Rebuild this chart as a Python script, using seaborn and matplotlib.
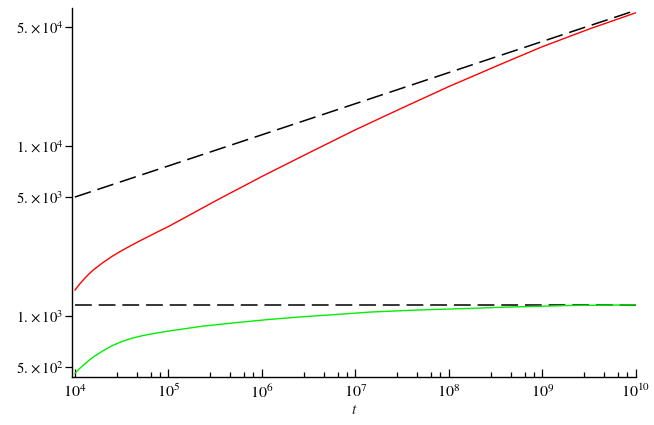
import matplotlib
matplotlib.use("Agg")
import matplotlib.pyplot as plt
import matplotlib.ticker as mticker
import seaborn as sns
import pandas as pd

# --- DATA ---
red_t = [1e4, 1.12e4, 1.26e4, 1.41e4, 1.58e4, 2e4, 2.51e4, 3.16e4, 3.98e4,
         5.01e4, 6.31e4, 7.94e4, 1e5, 1.78e5, 3.16e5, 1e6, 3.2e6, 1e7,
         3.2e7, 1e8, 3.2e8, 1e9, 3.2e9, 1e10]
red_v = [1413, 1531, 1648, 1758, 1862, 2056, 2239, 2415, 2588,
         2767, 2951, 3148, 3350, 3981, 4732, 6607, 9120, 12450,
         16790, 22390, 29510, 38460, 48980, 60950]

green_t = [1e4, 1.12e4, 1.26e4, 1.41e4, 1.58e4, 2e4, 2.51e4, 3.16e4, 3.98e4,
           5.01e4, 6.31e4, 7.94e4, 1e5, 2.34e5, 5.37e5, 1.23e6, 2.82e6,
           6.3e6, 1.45e7, 5.01e7, 1.7e8, 3.98e8, 2e9, 1e10]
green_v = [457, 487, 516, 544, 571, 621, 665, 703, 733,
           757, 777, 794, 811, 867, 910, 951, 986,
           1016, 1050, 1081, 1103, 1122, 1148, 1158]

upper_t = [1e4, 1e10]
upper_v = [5000, 63000]

lower_t = [1e4, 1e10]
lower_v = [1160, 1160]

x_major = [1e4, 1e5, 1e6, 1e7, 1e8, 1e9, 1e10]
x_labels = ["$10^{%d}$" % k for k in range(4, 11)]
x_minor_mult = [2.8, 4.6, 6.5, 8.1]
y_ticks = [5e2, 1e3, 5e3, 1e4, 5e4]
y_labels = [r"$5.\,{\times}\,10^{2}$", r"$1.\,{\times}\,10^{3}$",
            r"$5.\,{\times}\,10^{3}$", r"$1.\,{\times}\,10^{4}$",
            r"$5.\,{\times}\,10^{4}$"]

sns.set_style("ticks")
plt.rcParams["font.family"] = ["Liberation Serif", "DejaVu Serif"]
plt.rcParams["mathtext.fontset"] = "stix"

fig = plt.figure(figsize=(6.54, 4.25), dpi=100)
ax = fig.add_axes([0.110, 0.113, 0.862, 0.868])

dash = (11, 4.5)
sns.lineplot(data=pd.DataFrame({"t": upper_t, "v": upper_v}), x="t", y="v",
             ax=ax, color="black", lw=1.1, estimator=None, sort=False)
ax.lines[-1].set_dashes(dash)
sns.lineplot(data=pd.DataFrame({"t": lower_t, "v": lower_v}), x="t", y="v",
             ax=ax, color="black", lw=1.1, estimator=None, sort=False)
ax.lines[-1].set_dashes(dash)
sns.lineplot(data=pd.DataFrame({"t": red_t, "v": red_v}), x="t", y="v",
             ax=ax, color="#ff0000", lw=1.0, estimator=None, sort=False)
sns.lineplot(data=pd.DataFrame({"t": green_t, "v": green_v}), x="t", y="v",
             ax=ax, color="#00ee00", lw=1.0, estimator=None, sort=False)

ax.set_xscale("log")
ax.set_yscale("log")
ax.set_xlim(9300, 1e10)
ax.set_ylim(435, 65000)

ax.xaxis.set_major_locator(mticker.FixedLocator(x_major))
ax.xaxis.set_major_formatter(mticker.FixedFormatter(x_labels))
minors = [m * 10 ** k for k in range(4, 10) for m in x_minor_mult]
ax.xaxis.set_minor_locator(mticker.FixedLocator(minors))
ax.xaxis.set_minor_formatter(mticker.NullFormatter())

ax.yaxis.set_major_locator(mticker.FixedLocator(y_ticks))
ax.yaxis.set_major_formatter(mticker.FixedFormatter(y_labels))
ax.yaxis.set_minor_locator(mticker.NullLocator())

ax.tick_params(axis="x", which="major", bottom=True, direction="in", length=6,
               width=0.9, labelsize=11.5, pad=5, colors="black")
ax.tick_params(axis="x", which="minor", bottom=True, direction="in",
               length=3.5, width=0.9, colors="black")
ax.tick_params(axis="y", which="major", left=True, direction="out", length=5,
               width=0.9, labelsize=10.5, pad=1, colors="black")

sns.despine(ax=ax)
for side in ["left", "bottom"]:
    ax.spines[side].set_color("black")
    ax.spines[side].set_linewidth(1.0)

ax.set_xlabel("$t$", fontsize=11, labelpad=2)
ax.set_ylabel("")

fig.savefig("out.png", dpi=100)
